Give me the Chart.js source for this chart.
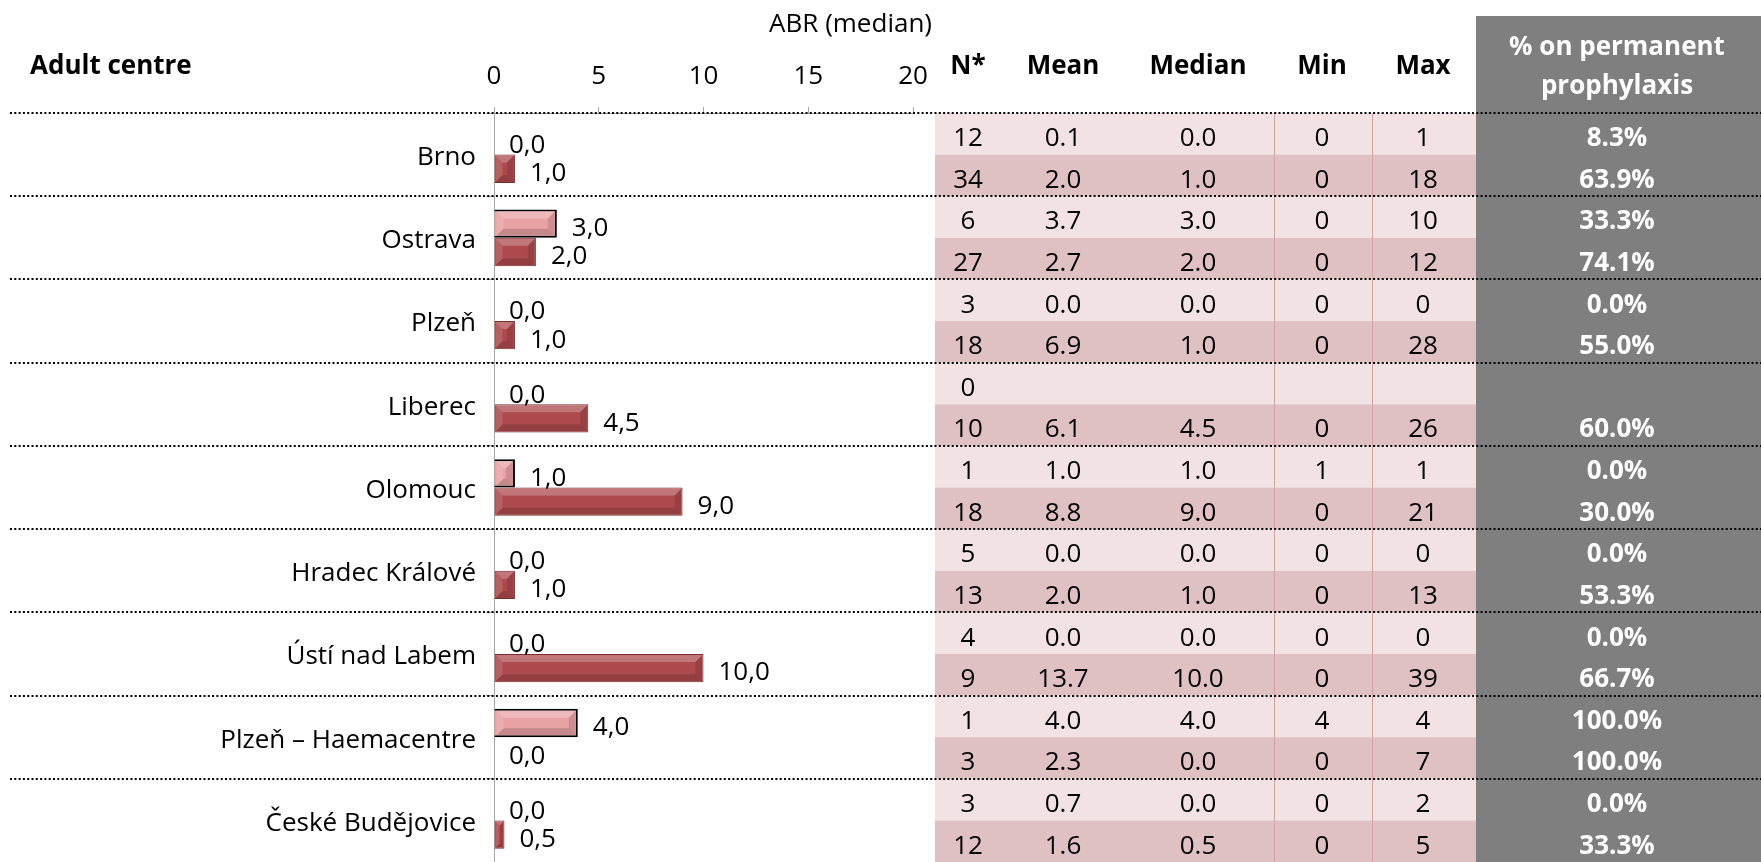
<!DOCTYPE html>
<html>
<head>
<meta charset="utf-8">
<title>ABR (median) – Adult centre</title>
<script src="https://cdn.jsdelivr.net/npm/chart.js@4/dist/chart.umd.min.js"></script>
<style>
  html, body { margin: 0; padding: 0; background: #fff; }
  #wrap { position: relative; width: 1761px; height: 862px; }
</style>
</head>
<body>
<div id="wrap"><canvas id="abrChart"></canvas></div>
<script>
// ---- data ----
const centres = ['Brno', 'Ostrava', 'Plzeň', 'Liberec', 'Olomouc', 'Hradec Králové',
  'Ústí nad Labem', 'Plzeň – Haemacentre', 'České Budějovice'];
const xTicks = [0, 5, 10, 15, 20];

// first row of each centre (light bars) and second row (dark bars)
const abrFirst  = [0, 3, 0, 0, 1, 0, 0, 4, 0];
const abrSecond = [1, 2, 1, 4.5, 9, 1, 10, 0, 0.5];

const nFirst      = [12, 6, 3, 0, 1, 5, 4, 1, 3];
const nSecond     = [34, 27, 18, 10, 18, 13, 9, 3, 12];
const meanFirst   = [0.1, 3.7, 0.0, null, 1.0, 0.0, 0.0, 4.0, 0.7];
const meanSecond  = [2.0, 2.7, 6.9, 6.1, 8.8, 2.0, 13.7, 2.3, 1.6];
const medFirst    = [0.0, 3.0, 0.0, null, 1.0, 0.0, 0.0, 4.0, 0.0];
const medSecond   = [1.0, 2.0, 1.0, 4.5, 9.0, 1.0, 10.0, 0.0, 0.5];
const minFirst    = [0, 0, 0, null, 1, 0, 0, 4, 0];
const minSecond   = [0, 0, 0, 0, 0, 0, 0, 0, 0];
const maxFirst    = [1, 10, 0, null, 1, 0, 0, 4, 2];
const maxSecond   = [18, 12, 28, 26, 21, 13, 39, 7, 5];
const protFirst   = [8.3, 33.3, 0.0, null, 0.0, 0.0, 0.0, 100.0, 0.0];
const protSecond  = [63.9, 74.1, 55.0, 60.0, 30.0, 53.3, 66.7, 100.0, 33.3];

const FONT = '"Open Sans", "Noto Sans", sans-serif';
const FS = 26;
const AXIS_LEFT = 494;
const AXIS_RIGHT = 913;
const AXIS_TOP = 113;

// table columns
const f1 = v => v == null ? '' : v.toFixed(1);
const f0 = v => v == null ? '' : String(v);
const fp = v => v == null ? '' : v.toFixed(1) + '%';
const columns = [
  { head: 'N*', x: 968, a: nFirst, b: nSecond, fmt: f0 },
  { head: 'Mean', x: 1063, a: meanFirst, b: meanSecond, fmt: f1 },
  { head: 'Median', x: 1198, a: medFirst, b: medSecond, fmt: f1 },
  { head: 'Min', x: 1322, a: minFirst, b: minSecond, fmt: f0 },
  { head: 'Max', x: 1423, a: maxFirst, b: maxSecond, fmt: f0 }
];

// ---- table, headers, separators ----
const tablePlugin = {
  id: 'sideTable',
  beforeDatasetsDraw(chart) {
    const { ctx } = chart;
    const y = chart.scales.y;
    const half = (y.getPixelForValue(1) - y.getPixelForValue(0)) / 2;
    ctx.save();

    // grey column
    ctx.fillStyle = '#7F7F7F';
    ctx.fillRect(1476, 16, 1761 - 1476, 862 - 16);

    centres.forEach((c, i) => {
      const yc = y.getPixelForValue(i);
      ctx.fillStyle = '#F2E2E3';
      ctx.fillRect(935, yc - half, 1476 - 935, half);
      ctx.fillStyle = '#DFC1C4';
      ctx.fillRect(935, yc, 1476 - 935, half);
    });

    // thin cell borders
    ctx.strokeStyle = '#D3A3A8';
    ctx.lineWidth = 1;
    [1274.5, 1372.5].forEach(x => {
      ctx.beginPath();
      ctx.moveTo(x, AXIS_TOP);
      ctx.lineTo(x, 862);
      ctx.stroke();
    });

    // cell text
    ctx.textAlign = 'center';
    ctx.textBaseline = 'middle';
    centres.forEach((c, i) => {
      const yc = y.getPixelForValue(i);
      ctx.font = FS + 'px ' + FONT;
      ctx.fillStyle = '#000';
      columns.forEach(col => {
        ctx.fillText(col.fmt(col.a[i]), col.x, yc - half / 2 + 5);
        ctx.fillText(col.fmt(col.b[i]), col.x, yc + half / 2 + 5);
      });
      ctx.font = 'bold ' + FS + 'px ' + FONT;
      ctx.fillStyle = '#fff';
      ctx.fillText(fp(protFirst[i]), 1617, yc - half / 2 + 5);
      ctx.fillText(fp(protSecond[i]), 1617, yc + half / 2 + 5);
    });

    // headers
    ctx.font = 'bold ' + FS + 'px ' + FONT;
    ctx.fillStyle = '#000';
    columns.forEach(col => ctx.fillText(col.head, col.x, 67));
    ctx.textAlign = 'left';
    ctx.fillText('Adult centre', 30, 67);
    ctx.textAlign = 'center';
    ctx.fillStyle = '#fff';
    ctx.fillText('% on permanent', 1617, 48);
    ctx.fillText('prophylaxis', 1617, 87);

    // axis title
    ctx.font = FS + 'px ' + FONT;
    ctx.fillStyle = '#000';
    ctx.textAlign = 'right';
    ctx.fillText('ABR (median)', 932, 25);

    // dotted separators
    ctx.strokeStyle = '#000';
    ctx.lineWidth = 2;
    ctx.setLineDash([2, 2.3]);
    centres.forEach((c, i) => {
      const yt = Math.round(y.getPixelForValue(i) - half);
      ctx.beginPath();
      ctx.moveTo(10, yt);
      ctx.lineTo(1761, yt);
      ctx.stroke();
    });
    ctx.restore();
  }
};

// ---- bevel look on the bars + value labels ----
const barDecor = {
  id: 'barDecor',
  afterDatasetsDraw(chart) {
    const { ctx } = chart;
    ctx.save();
    chart.data.datasets.forEach((ds, di) => {
      const meta = chart.getDatasetMeta(di);
      const bw = ds.borderWidth;
      meta.data.forEach((el, i) => {
        const l = Math.min(el.base, el.x) + bw;
        const r = Math.max(el.base, el.x) - bw;
        const t = el.y - el.height / 2 + bw;
        const b = el.y + el.height / 2 - bw;
        if (r - l > 1) {
          const s = Math.min(7, (r - l) / 2, (b - t) / 2);
          const poly = (pts, color) => {
            ctx.beginPath();
            ctx.moveTo(pts[0][0], pts[0][1]);
            pts.slice(1).forEach(p => ctx.lineTo(p[0], p[1]));
            ctx.closePath();
            ctx.fillStyle = color;
            ctx.fill();
          };
          poly([[l, t], [r, t], [r - s, t + s], [l + s, t + s]], 'rgba(255,255,255,0.25)');
          poly([[l, b], [r, b], [r - s, b - s], [l + s, b - s]], 'rgba(0,0,0,0.15)');
          poly([[l, t], [l + s, t + s], [l + s, b - s], [l, b]], 'rgba(255,255,255,0.12)');
          poly([[r, t], [r - s, t + s], [r - s, b - s], [r, b]], 'rgba(0,0,0,0.12)');
        }
        // value label
        ctx.font = FS + 'px ' + FONT;
        ctx.fillStyle = '#000';
        ctx.textAlign = 'left';
        ctx.textBaseline = 'middle';
        const v = ds.data[i];
        ctx.fillText(v.toFixed(1).replace('.', ','), el.x + 15, el.y + 5);
      });
    });
    ctx.restore();
  }
};

new Chart(document.getElementById('abrChart'), {
  type: 'bar',
  data: {
    labels: centres,
    datasets: [
      {
        label: 'first',
        data: abrFirst,
        backgroundColor: '#E9A2A4',
        borderColor: '#000',
        borderWidth: 2,
        barPercentage: 1,
        categoryPercentage: 0.68
      },
      {
        label: 'second',
        data: abrSecond,
        backgroundColor: '#AD4A4E',
        borderColor: '#7A2E31',
        borderWidth: 1,
        barPercentage: 1,
        categoryPercentage: 0.68
      }
    ]
  },
  options: {
    indexAxis: 'y',
    responsive: true,
    maintainAspectRatio: false,
    animation: false,
    layout: { padding: { left: 0, right: 1761 - AXIS_RIGHT, top: 0, bottom: 0 } },
    plugins: {
      legend: { display: false },
      tooltip: { enabled: false }
    },
    scales: {
      x: {
        position: 'top',
        min: 0,
        max: 20,
        afterBuildTicks: axis => { axis.ticks = xTicks.map(v => ({ value: v })); },
        afterFit: axis => { axis.height = AXIS_TOP; },
        ticks: { font: { family: FONT, size: FS }, color: '#000', padding: 15 },
        grid: { drawOnChartArea: false, tickLength: 6, color: '#A6A6A6' },
        border: { color: '#A6A6A6', width: 1 }
      },
      y: {
        afterFit: axis => {
          axis.width = AXIS_LEFT;
          axis.paddingTop = 0;
          axis.paddingBottom = 0;
        },
        ticks: { font: { family: FONT, size: FS }, color: '#000', padding: 10, labelOffset: 3 },
        grid: { drawOnChartArea: false, offset: true, tickLength: 8, color: '#A6A6A6' },
        border: { color: '#A6A6A6', width: 1 }
      }
    }
  },
  plugins: [tablePlugin, barDecor]
});
</script>
</body>
</html>
